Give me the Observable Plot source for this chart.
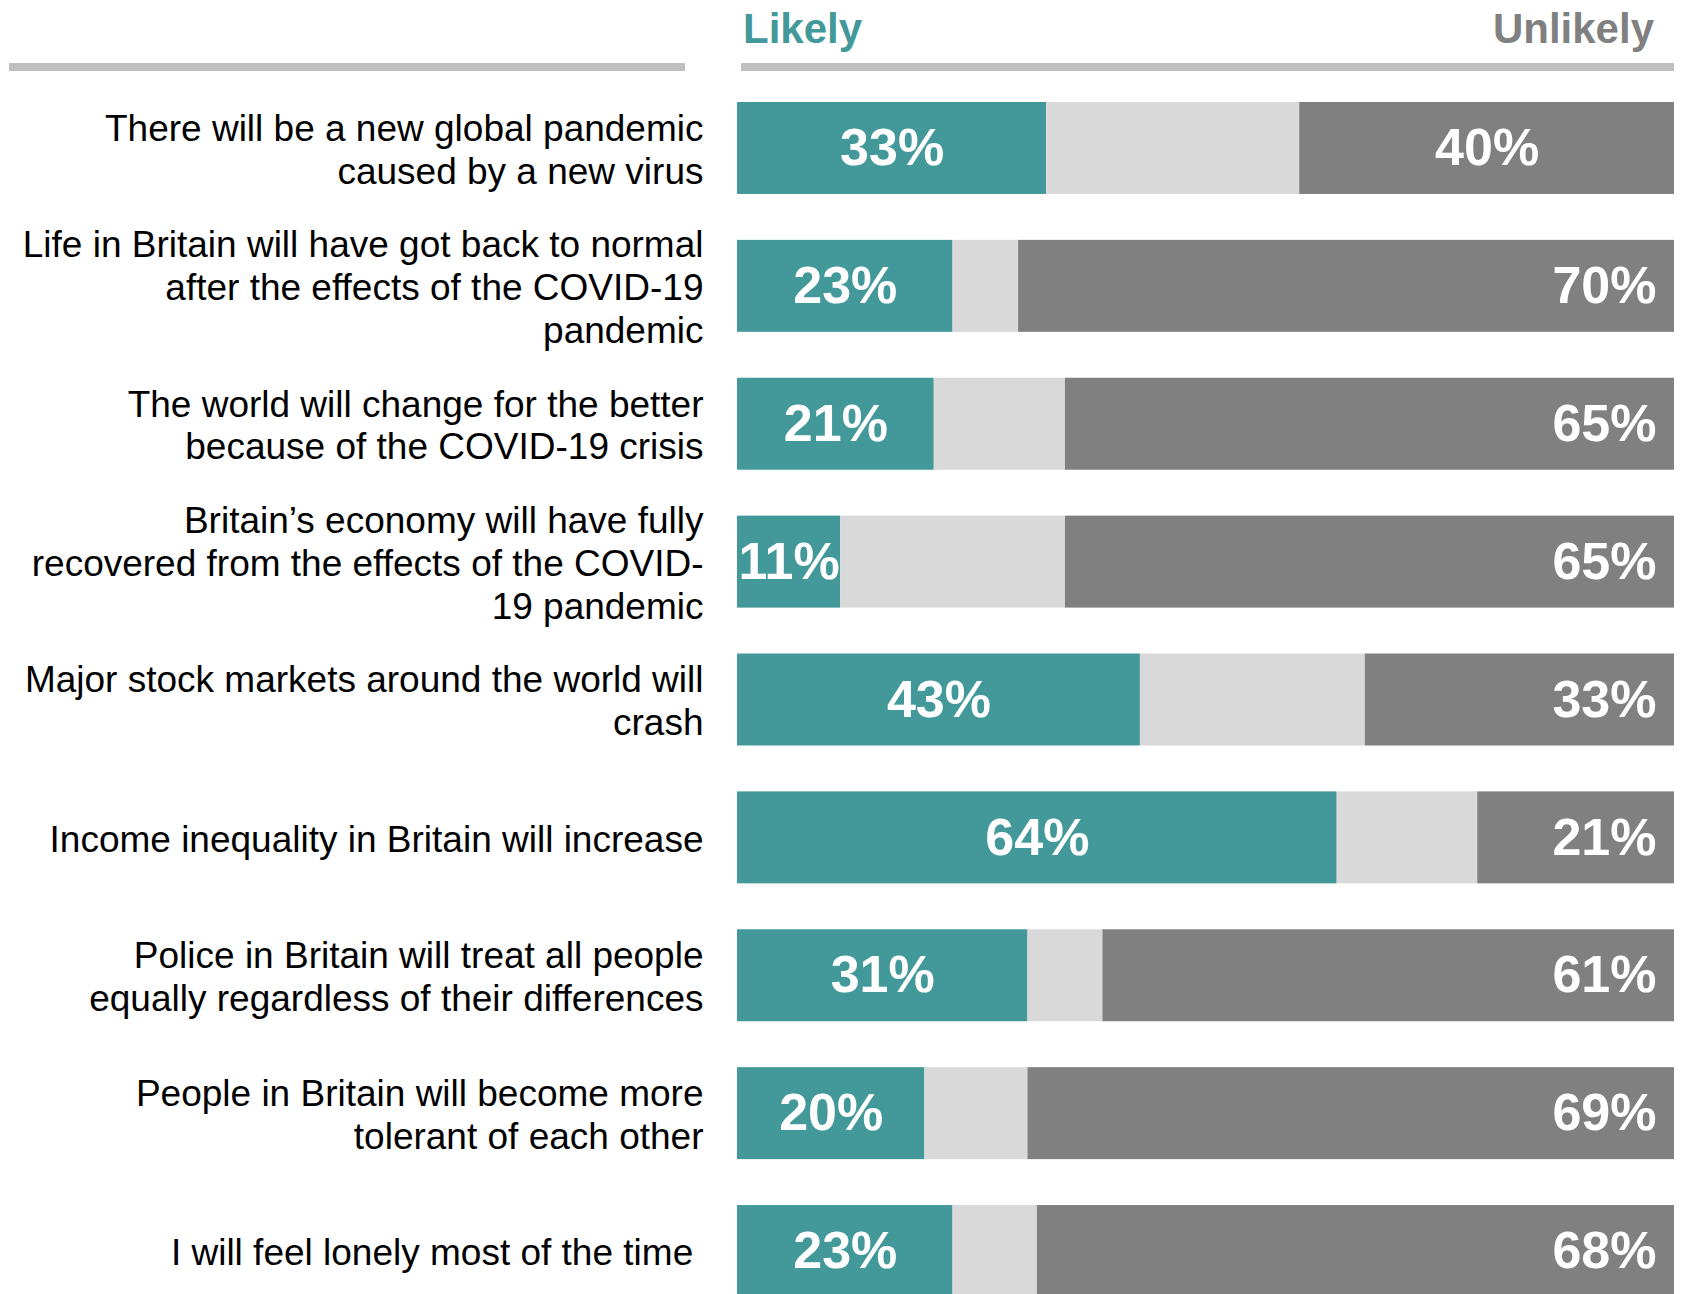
<!DOCTYPE html>
<html>
<head>
<meta charset="utf-8">
<script src="https://cdn.jsdelivr.net/npm/d3@7"></script>
<script src="https://cdn.jsdelivr.net/npm/@observablehq/plot@0.6"></script>
<style>
  html, body { margin: 0; padding: 0; background: #fff; }
  svg { display: block; }
</style>
</head>
<body>
<div id="chart"></div>
<script>
// ---- Data ----
const questions = [
  "There will be a new global pandemic\ncaused by a new virus",
  "Life in Britain will have got back to normal\nafter the effects of the COVID-19\npandemic",
  "The world will change for the better\nbecause of the COVID-19 crisis",
  "Britain\u2019s economy will have fully\nrecovered from the effects of the COVID-\n19 pandemic",
  "Major stock markets around the world will\ncrash",
  "Income inequality in Britain will increase",
  "Police in Britain will treat all people\nequally regardless of their differences",
  "People in Britain will become more\ntolerant of each other",
  "I will feel lonely most of the time\u00a0"
];
const likely   = [33, 23, 21, 11, 43, 64, 31, 20, 23];
const unlikely = [40, 70, 65, 65, 33, 21, 61, 69, 68];
const headerLabels = ["Likely", "Unlikely"];
const seriesNames = ["Likely", "Neither / Don't know", "Unlikely"];
const seriesColors = ["#43999a", "#d9d9d9", "#808080"];

// ---- Derived tables ----
const rows = questions.map((q, i) => ({
  q, likely: likely[i], unlikely: unlikely[i], idx: i
}));
const segments = rows.flatMap(r => [
  {q: r.q, k: seriesNames[0], x1: 0, x2: r.likely},
  {q: r.q, k: seriesNames[1], x1: r.likely, x2: 100 - r.unlikely},
  {q: r.q, k: seriesNames[2], x1: 100 - r.unlikely, x2: 100}
]);

const FONT = "'Liberation Sans', Arial, Helvetica, sans-serif";
const pctStyle = {fill: "white", fontSize: 52, fontWeight: "bold"};

const plot = Plot.plot({
  width: 1689,
  height: 1294,
  marginLeft: 737,
  marginRight: 15,
  marginTop: 0,
  marginBottom: 0,
  style: {fontFamily: FONT, background: "#fff", overflow: "hidden"},
  x: {domain: [0, 100], axis: null},
  y: {domain: questions, range: [79, 1320], paddingInner: 0.333, paddingOuter: 0.1667, round: false, axis: null},
  color: {domain: seriesNames, range: seriesColors},
  marks: [
    Plot.barX(segments, {x1: "x1", x2: "x2", y: "q", fill: "k"}),
    Plot.text(rows, {x: d => d.likely / 2, y: "q", text: d => d.likely + "%", ...pctStyle}),
    Plot.text(rows.filter(d => d.idx === 0), {x: d => 100 - d.unlikely / 2, y: "q", text: d => d.unlikely + "%", ...pctStyle}),
    Plot.text(rows.filter(d => d.idx > 0), {x: 100, dx: -18, textAnchor: "end", y: "q", text: d => d.unlikely + "%", ...pctStyle}),
    Plot.text(rows, {x: 0, dx: -34, textAnchor: "end", y: "q", text: "q", fontSize: 37, lineHeight: 1.16, fill: "#000"})
  ]
});

document.getElementById("chart").appendChild(plot);

// ---- Header (decoration) ----
const xs = plot.scale("x");
const svg = d3.select(plot);
const hdr = svg.append("g").attr("font-family", FONT).attr("font-weight", "bold");
hdr.append("rect").attr("x", 9).attr("y", 63).attr("width", 685 - 9).attr("height", 8).attr("fill", "#bfbfbf");
hdr.append("rect").attr("x", xs.apply(0) + 4).attr("y", 63)
   .attr("width", xs.apply(100) - xs.apply(0) - 4).attr("height", 8).attr("fill", "#bfbfbf");
hdr.append("text").attr("x", xs.apply(0) + 6).attr("y", 43).attr("font-size", 42)
   .attr("text-anchor", "start").attr("fill", seriesColors[0]).text(headerLabels[0]);
hdr.append("text").attr("x", xs.apply(100) - 20).attr("y", 43).attr("font-size", 42)
   .attr("text-anchor", "end").attr("fill", seriesColors[2]).text(headerLabels[1]);
</script>
</body>
</html>
